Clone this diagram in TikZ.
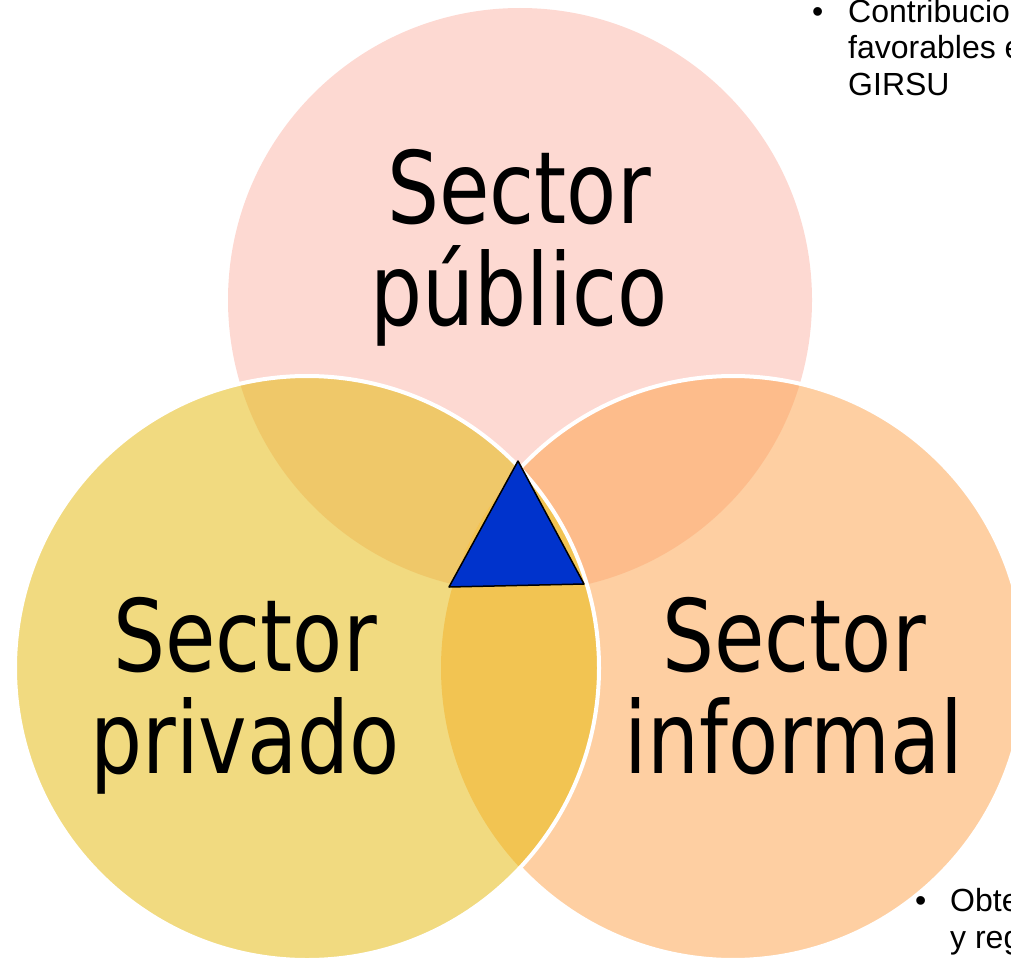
\documentclass[tikz,border=0pt]{standalone}
\usepackage{fontspec}
\setmainfont[FakeStretch=0.82]{DejaVu Sans}
\newfontfamily\notefont{Liberation Sans}
\usepackage{tikz}
\definecolor{secPublico}{HTML}{FDD9D2}
\definecolor{secPrivado}{HTML}{F1DA80}
\definecolor{secInformal}{HTML}{FECFA2}
\definecolor{pubPriv}{HTML}{EFC869}
\definecolor{pubInf}{HTML}{FDBC8B}
\definecolor{privInf}{HTML}{F2C452}
\definecolor{triAzul}{HTML}{0033CC}

\begin{document}
\begin{tikzpicture}[x=1pt, y=-1pt,
  sectortext/.style={align=center, inner sep=0pt, anchor=base, font=\fontsize{100}{102}\selectfont},
  notetext/.style={align=left, inner sep=0pt, anchor=base west, font=\notefont\fontsize{32}{36.5}\selectfont},
  borde/.style={white, line width=4pt}]
  \useasboundingbox (0,0) rectangle (1011,958);
  \clip (0,0) rectangle (1011,958);

  \coordinate (pubC) at (520,300);
  \coordinate (privC) at (307,668);
  \coordinate (infC) at (733,668);

  % los tres sectores
  \fill[secPublico] (pubC) circle[radius=292];
  \fill[secInformal] (infC) circle[radius=292];
  \fill[secPrivado] (privC) circle[radius=292];

  % zonas comunes
  \begin{scope}
    \clip (pubC) circle[radius=292];
    \fill[pubPriv] (privC) circle[radius=292];
    \fill[pubInf] (infC) circle[radius=292];
  \end{scope}
  \begin{scope}
    \clip (privC) circle[radius=292];
    \fill[privInf] (infC) circle[radius=292];
  \end{scope}

  % bordes blancos
  \draw[borde] (infC) ++(-136.8:292) arc[start angle=-136.8, end angle=136.8, radius=292];
  \draw[borde] (privC) circle[radius=292];

  \filldraw[fill=triAzul, draw=black, line width=1.5pt, line join=round]
    (518,461) -- (449,587) -- (584,584) -- cycle;

  % base = ultima linea
  \node[sectortext] (publico) at (519,325) {Sector\\público};
  \node[sectortext] (privado) at (245,773) {Sector\\privado};
  \node[sectortext] (informal) at (794,773) {Sector\\informal};

  \node[notetext] (nota1) at (848,95) {\llap{•\hspace{25pt}}Contribuciones\\favorables en\\GIRSU};
  \node[notetext] (nota2) at (950,948) {\llap{•\hspace{24pt}}Obtención\\y regulación};
\end{tikzpicture}
\end{document}
